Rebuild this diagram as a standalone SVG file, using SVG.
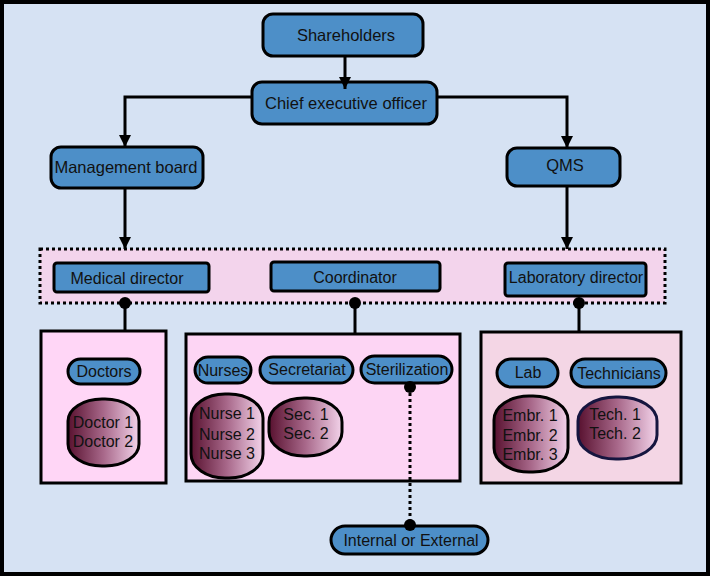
<svg xmlns="http://www.w3.org/2000/svg" width="710" height="576" viewBox="0 0 710 576">
<defs>
<style>
text{font-family:"Liberation Sans",Arial,sans-serif;fill:#111;text-anchor:middle}
.top{font-size:16.5px}
.mid{font-size:16px}
.blue{fill:#4d8fc8;stroke:#000;stroke-width:3}
.blob{stroke:#000;stroke-width:3;fill:url(#g)}
.ln{stroke:#000;stroke-width:3;fill:none}
</style>
<linearGradient id="g" x1="0" y1="0" x2="1" y2="0">
<stop offset="0" stop-color="#58112f"/>
<stop offset="0.5" stop-color="#a8688a"/>
<stop offset="1" stop-color="#f3d3ea"/>
</linearGradient>
<marker id="ah" viewBox="0 0 12 12" refX="12" refY="6" markerWidth="12" markerHeight="12" markerUnits="userSpaceOnUse" orient="auto">
<path d="M0,0 L12,6 L0,12 z" fill="#000"/>
</marker>
</defs>
<rect x="2" y="2" width="706" height="572" fill="#d6e2f3" stroke="#000" stroke-width="4"/>

<g id="group-directors">
<rect x="40" y="249" width="625" height="54" fill="#f3d4ec" stroke="#000" stroke-width="3" stroke-dasharray="3 3"/>
</g>

<g id="shareholders">
<rect class="blue" x="263" y="14" width="160" height="42" rx="10"/>
<text class="top" x="346" y="41">Shareholders</text>
</g>
<g id="ceo">
<rect class="blue" x="252" y="82" width="185" height="42" rx="10"/>
<text class="top" x="346" y="109">Chief executive officer</text>
</g>
<g id="management-board">
<rect class="blue" x="51" y="147" width="152" height="41" rx="10"/>
<text class="top" x="126" y="173">Management board</text>
</g>
<g id="qms">
<rect class="blue" x="507" y="148" width="113" height="38" rx="10"/>
<text class="top" x="565" y="171">QMS</text>
</g>

<g id="medical-director">
<rect class="blue" x="54" y="263" width="155" height="29" rx="3"/>
<text class="mid" x="127" y="284">Medical director</text>
</g>
<g id="coordinator">
<rect class="blue" x="271" y="262" width="169" height="29" rx="3"/>
<text class="mid" x="355" y="283">Coordinator</text>
</g>
<g id="laboratory-director">
<rect class="blue" x="505" y="263" width="141" height="33" rx="3"/>
<text class="mid" x="576" y="283">Laboratory director</text>
</g>

<g id="doctors-unit">
<rect x="41" y="331" width="125" height="152" fill="#ffd6f6" stroke="#000" stroke-width="3"/>
</g>
<g id="nursing-unit">
<rect x="186" y="334" width="274" height="147" fill="#fdd5f4" stroke="#000" stroke-width="3"/>
</g>
<g id="lab-unit">
<rect x="481" y="332" width="200" height="151" fill="#f4d6e5" stroke="#000" stroke-width="3"/>
</g>

<g id="doctors">
<rect class="blue" x="68" y="359" width="72" height="25" rx="12.5"/>
<text class="mid" x="104" y="377">Doctors</text>
</g>
<g id="doctor-list">
<rect class="blob" x="68" y="399" width="71" height="67" rx="34" ry="22"/>
<text class="mid" x="103" y="428">Doctor 1</text>
<text class="mid" x="103" y="447">Doctor 2</text>
</g>

<g id="nurses">
<rect class="blue" x="195" y="357" width="56" height="26" rx="13"/>
<text class="mid" x="223" y="376">Nurses</text>
</g>
<g id="secretariat">
<rect class="blue" x="260" y="357" width="93" height="26" rx="13"/>
<text class="mid" x="307" y="375">Secretariat</text>
</g>
<g id="sterilization">
<rect class="blue" x="361" y="356" width="91" height="27" rx="13.5"/>
<text class="mid" x="407" y="375">Sterilization</text>
</g>
<g id="nurse-list">
<rect class="blob" x="191" y="394" width="72" height="84" rx="34" ry="24"/>
<text class="mid" x="227" y="419">Nurse 1</text>
<text class="mid" x="227" y="440">Nurse 2</text>
<text class="mid" x="227" y="459">Nurse 3</text>
</g>
<g id="sec-list">
<rect class="blob" x="269" y="398" width="73" height="58" rx="35" ry="24"/>
<text class="mid" x="306" y="420">Sec. 1</text>
<text class="mid" x="306" y="439">Sec. 2</text>
</g>

<g id="lab">
<rect class="blue" x="497" y="359" width="61" height="28" rx="14"/>
<text class="mid" x="528" y="378">Lab</text>
</g>
<g id="technicians">
<rect class="blue" x="571" y="359" width="95" height="28" rx="14"/>
<text class="mid" x="619" y="379">Technicians</text>
</g>
<g id="embr-list">
<rect class="blob" x="494" y="396" width="74" height="76" rx="35" ry="24"/>
<text class="mid" x="530" y="421">Embr. 1</text>
<text class="mid" x="530" y="441">Embr. 2</text>
<text class="mid" x="530" y="460">Embr. 3</text>
</g>
<g id="tech-list">
<rect class="blob" x="578" y="397" width="79" height="62" rx="38" ry="24" style="stroke:#15153f"/>
<text class="mid" x="615" y="420">Tech. 1</text>
<text class="mid" x="615" y="439">Tech. 2</text>
</g>

<g id="internal-external">
<rect class="blue" x="331" y="526" width="157" height="28" rx="14"/>
<text class="mid" x="411" y="546">Internal or External</text>
</g>

<g id="connectors">
<line class="ln" x1="345" y1="56" x2="345" y2="89" marker-end="url(#ah)"/>
<polyline class="ln" points="252,97 125,97 125,147" marker-end="url(#ah)"/>
<polyline class="ln" points="437,97 567,97 567,148" marker-end="url(#ah)"/>
<line class="ln" x1="125" y1="188" x2="125" y2="249" marker-end="url(#ah)"/>
<line class="ln" x1="567" y1="186" x2="567" y2="249" marker-end="url(#ah)"/>
<line class="ln" x1="125" y1="303" x2="125" y2="330"/>
<circle cx="125" cy="303" r="6"/>
<line class="ln" x1="355" y1="303" x2="355" y2="333"/>
<circle cx="355" cy="303" r="6"/>
<line class="ln" x1="579" y1="303" x2="579" y2="331"/>
<circle cx="579" cy="303" r="6"/>
<line class="ln" x1="410" y1="387" x2="410" y2="525" stroke-dasharray="3 3"/>
<circle cx="410" cy="387" r="6"/>
<circle cx="410" cy="525" r="6"/>
</g>
</svg>
